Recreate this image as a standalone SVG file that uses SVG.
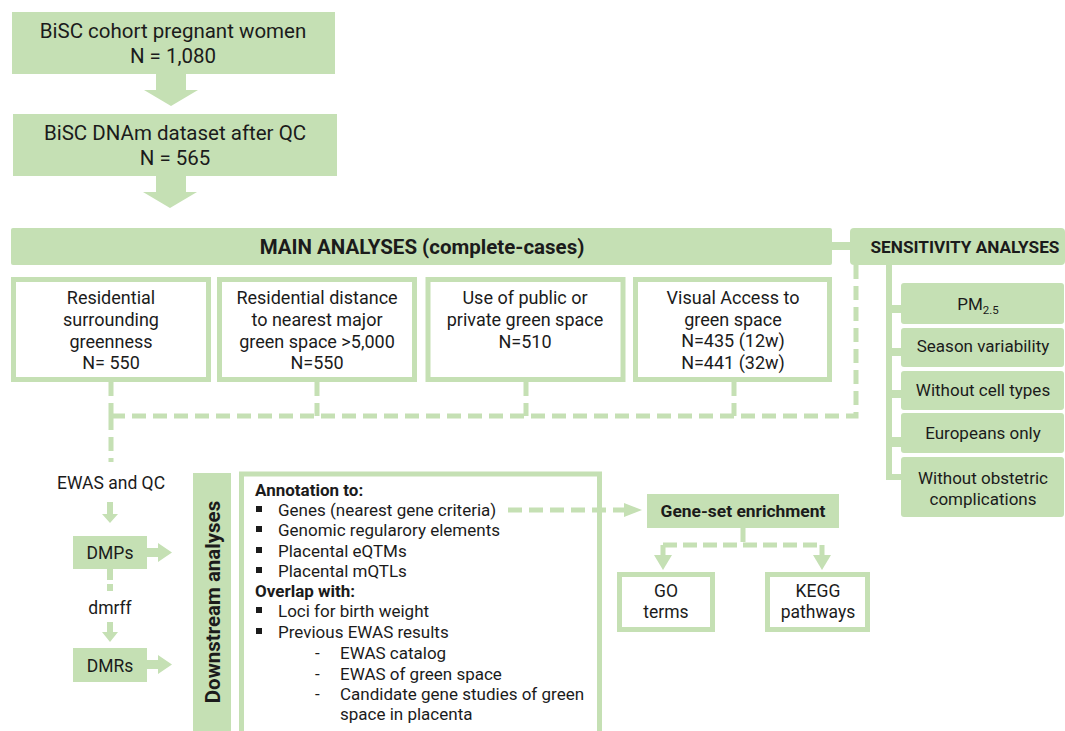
<svg xmlns="http://www.w3.org/2000/svg" width="1065" height="731" viewBox="0 0 1065 731">
<style>
.fill{fill:#c5e0b4}
.wbox{fill:#ffffff;stroke:#c5e0b4;stroke-width:5}
.t{font-family:Roboto,"Liberation Sans",sans-serif;fill:#1b1b1b;text-anchor:middle}
.tl{font-family:Roboto,"Liberation Sans",sans-serif;fill:#1b1b1b}
.dash{fill:none;stroke:#c5e0b4;stroke-width:5;stroke-dasharray:14 7}
.b{font-weight:bold}
</style>
<rect width="1065" height="731" fill="#ffffff"/>

<g id="node-cohort">
  <rect class="fill" x="12" y="12" width="323" height="62"/>
  <text class="t" x="173" y="38" font-size="20.5">BiSC cohort pregnant women</text>
  <text class="t" x="173" y="63" font-size="20.5">N = 1,080</text>
</g>
<g id="node-dnam">
  <rect class="fill" x="13" y="114" width="324" height="62"/>
  <text class="t" x="175" y="140" font-size="20.5">BiSC DNAm dataset after QC</text>
  <text class="t" x="175" y="165" font-size="20.5">N = 565</text>
</g>
<g id="node-main">
  <rect class="fill" x="11" y="228" width="821" height="37" rx="2"/>
  <text class="t b" x="422" y="253.5" font-size="20.5">MAIN ANALYSES (complete-cases)</text>
</g>
<g id="node-sensitivity">
  <rect class="fill" x="850" y="228" width="215" height="37" rx="4"/>
  <text class="t b" x="965" y="252.5" font-size="17.2">SENSITIVITY ANALYSES</text>
</g>

<g id="node-greenness">
  <rect class="wbox" x="13.5" y="279.5" width="195" height="100"/>
  <text class="t" x="111" y="303.5" font-size="18">Residential</text>
  <text class="t" x="111" y="325.5" font-size="18">surrounding</text>
  <text class="t" x="111" y="347.5" font-size="18">greenness</text>
  <text class="t" x="111" y="368.5" font-size="18">N= 550</text>
</g>
<g id="node-distance">
  <rect class="wbox" x="219.5" y="279.5" width="195" height="100"/>
  <text class="t" x="317" y="303.5" font-size="18">Residential distance</text>
  <text class="t" x="317" y="325.5" font-size="18">to nearest major</text>
  <text class="t" x="317" y="347.5" font-size="18">green space &gt;5,000</text>
  <text class="t" x="317" y="368.5" font-size="18">N=550</text>
</g>
<g id="node-use">
  <rect class="wbox" x="428" y="279.5" width="195" height="100"/>
  <text class="t" x="525" y="303.5" font-size="18">Use of public or</text>
  <text class="t" x="525" y="325.5" font-size="18">private green space</text>
  <text class="t" x="525" y="347.5" font-size="18">N=510</text>
</g>
<g id="node-visual">
  <rect class="wbox" x="635.5" y="279.5" width="194" height="100"/>
  <text class="t" x="733" y="303.5" font-size="18">Visual Access to</text>
  <text class="t" x="733" y="325.5" font-size="18">green space</text>
  <text class="t" x="733" y="346.5" font-size="18">N=435 (12w)</text>
  <text class="t" x="733" y="368.5" font-size="18">N=441 (32w)</text>
</g>

<g id="node-pm">
  <rect class="fill" x="901" y="283" width="163" height="41" rx="3"/>
  <text class="t" x="978" y="310" font-size="17">PM<tspan font-size="11.5" dy="4">2.5</tspan></text>
</g>
<g id="node-season">
  <rect class="fill" x="901" y="328" width="163" height="39" rx="3"/>
  <text class="t" x="983" y="352" font-size="17">Season variability</text>
</g>
<g id="node-celltypes">
  <rect class="fill" x="901" y="371" width="163" height="39" rx="3"/>
  <text class="t" x="983" y="396" font-size="17">Without cell types</text>
</g>
<g id="node-europeans">
  <rect class="fill" x="901" y="413" width="163" height="40" rx="3"/>
  <text class="t" x="983" y="439" font-size="17">Europeans only</text>
</g>
<g id="node-obstetric">
  <rect class="fill" x="901" y="457" width="163" height="60" rx="3"/>
  <text class="t" x="983" y="484" font-size="17">Without obstetric</text>
  <text class="t" x="983" y="505" font-size="17">complications</text>
</g>

<g id="label-ewas">
  <text class="t" x="111" y="489" font-size="17.5">EWAS and QC</text>
</g>
<g id="node-dmps">
  <rect class="fill" x="73" y="536" width="74" height="33"/>
  <text class="t" x="110" y="558.5" font-size="17.5">DMPs</text>
</g>
<g id="label-dmrff">
  <text class="t" x="110" y="614" font-size="17.5">dmrff</text>
</g>
<g id="node-dmrs">
  <rect class="fill" x="73" y="648" width="74" height="34"/>
  <text class="t" x="110" y="671.5" font-size="17.5">DMRs</text>
</g>

<g id="node-downstream">
  <rect class="fill" x="193" y="473" width="38" height="262"/>
  <text class="t b" x="0" y="0" font-size="20.5" transform="translate(219.5,602) rotate(-90)">Downstream analyses</text>
</g>

<g id="node-content">
  <rect class="wbox" x="241.5" y="474" width="358" height="280"/>
  <g font-size="17">
    <text class="tl b" x="255" y="496">Annotation to:</text>
    <rect x="256" y="506" width="6" height="6" fill="#1b1b1b"/>
    <text class="tl" x="278" y="516">Genes (nearest gene criteria)</text>
    <rect x="256" y="526" width="6" height="6" fill="#1b1b1b"/>
    <text class="tl" x="278" y="536">Genomic regularory elements</text>
    <rect x="256" y="547" width="6" height="6" fill="#1b1b1b"/>
    <text class="tl" x="278" y="557">Placental eQTMs</text>
    <rect x="256" y="567" width="6" height="6" fill="#1b1b1b"/>
    <text class="tl" x="278" y="577">Placental mQTLs</text>
    <text class="tl b" x="255" y="597">Overlap with:</text>
    <rect x="256" y="607" width="6" height="6" fill="#1b1b1b"/>
    <text class="tl" x="278" y="617">Loci for birth weight</text>
    <rect x="256" y="628" width="6" height="6" fill="#1b1b1b"/>
    <text class="tl" x="278" y="638">Previous EWAS results</text>
    <text class="tl" x="315" y="659">-</text>
    <text class="tl" x="340" y="659">EWAS catalog</text>
    <text class="tl" x="315" y="680">-</text>
    <text class="tl" x="340" y="680">EWAS of green space</text>
    <text class="tl" x="315" y="700">-</text>
    <text class="tl" x="340" y="700">Candidate gene studies of green</text>
    <text class="tl" x="340" y="720">space in placenta</text>
  </g>
</g>

<g id="node-geneset">
  <rect class="fill" x="647" y="494" width="192" height="34"/>
  <text class="t b" x="743" y="517" font-size="17.4">Gene-set enrichment</text>
</g>
<g id="node-go">
  <rect class="wbox" x="619.5" y="574.5" width="93" height="55"/>
  <text class="t" x="666" y="597" font-size="17.5">GO</text>
  <text class="t" x="666" y="618" font-size="17.5">terms</text>
</g>
<g id="node-kegg">
  <rect class="wbox" x="767.5" y="574.5" width="100" height="55"/>
  <text class="t" x="818" y="597" font-size="17.5">KEGG</text>
  <text class="t" x="818" y="618" font-size="17.5">pathways</text>
</g>

<g id="connectors">
  <polygon class="fill" points="156,74 186,74 186,90 198,90 171,106 144,90 156,90"/>
  <polygon class="fill" points="156,176 186,176 186,192 197,192 170,208 143,192 156,192"/>
  <rect class="fill" x="830" y="242" width="24" height="8"/>
  <path class="dash" d="M111,382 V416 M317,382 V416 M526,382 V416 M734,382 V416 M111,416 H856 V265"/>
  <path class="dash" d="M111,416 V462"/>
  <path class="fill" d="M886,264 H892 V305 H902 V313 H892 V348 H902 V356 H892 V390 H902 V398 H892 V437 H902 V447 H892 V474 H902 V480 H886 Z"/>
  <polygon class="fill" points="107,502 113,502 113,514 118,514 110,523 102,514 107,514"/>
  <polygon class="fill" points="147,548 158,548 158,543 172,552.5 158,562 158,557 147,557"/>
  <rect class="fill" x="107" y="569" width="6" height="11"/>
  <rect class="fill" x="107" y="584" width="6" height="7"/>
  <polygon class="fill" points="107,622 113,622 113,632 118,632 110,642 102,632 107,632"/>
  <polygon class="fill" points="147,660 158,660 158,655 172,664.5 158,674 158,669 147,669"/>
  <path class="dash" d="M508,510 H628"/>
  <polygon class="fill" points="624,503 642,510 624,517"/>
  <path class="dash" d="M743,528 V545 M663,545 H822 M663,545 V557 M822,545 V557" style="stroke-dasharray:14 6"/>
  <polygon class="fill" points="654,555 672,555 663,570"/>
  <polygon class="fill" points="813,555 831,555 822,570"/>
</g>
</svg>
